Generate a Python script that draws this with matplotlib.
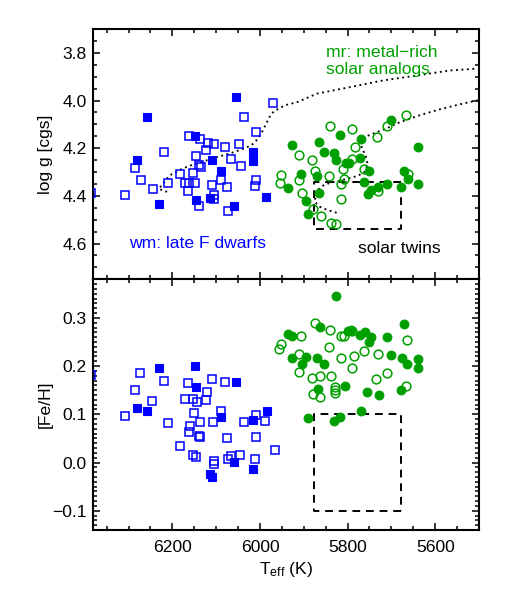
#!/usr/bin/env python3
# -*- coding: utf-8 -*-
import numpy as np
import matplotlib
matplotlib.use("Agg")
import matplotlib.pyplot as plt
from matplotlib.ticker import MultipleLocator

plt.rcParams['font.family'] = ['Liberation Sans', 'DejaVu Sans']
plt.rcParams['mathtext.fontset'] = 'custom'
plt.rcParams['mathtext.rm'] = 'Liberation Sans'
plt.rcParams['mathtext.it'] = 'Liberation Sans:italic'

BLUE = '#0000ff'
GREEN = '#009f00'

# --- wm: late F dwarfs (squares) ---
wm_open_teff = [5970, 6037, 6008, 6162, 6137, 6118, 6104, 6079, 6047, 6218, 6124, 6146, 6065,
                6140, 6135, 6043, 6285, 6183, 6152, 6272, 6210, 6171, 6162, 6149, 6110, 6090,
                6075, 6009, 6011, 6245, 6164, 6309, 6105, 6105, 6139, 6073, 6385]
wm_open_logg = [4.009, 4.069, 4.131, 4.149, 4.163, 4.177, 4.184, 4.195, 4.184, 4.216, 4.209, 4.232,
                4.245, 4.270, 4.277, 4.275, 4.284, 4.307, 4.302, 4.333, 4.345, 4.344, 4.345, 4.345,
                4.355, 4.333, 4.361, 4.332, 4.358, 4.372, 4.378, 4.397, 4.396, 4.414, 4.441, 4.465,
                4.390]
wm_fill_teff = [6055, 6257, 6149, 6016, 6016, 6281, 6110, 6089, 6147, 6114, 5987, 6230, 6060]
wm_fill_logg = [3.985, 4.069, 4.148, 4.215, 4.252, 4.251, 4.251, 4.294, 4.416, 4.409, 4.405, 4.436, 4.443]

wm_open_teff_b = [6273, 6218, 6165, 6110, 6080, 6120, 6285, 6246, 6170, 6152, 6143, 6123, 6309,
                  6211, 6150, 6137, 6107, 6089, 6037, 6008, 5988, 6160, 6162, 6140, 6137, 6075,
                  6009, 6183, 5966, 6152, 6145, 6105, 6104, 6073, 6065, 6046, 6012, 6385]
wm_open_feh = [0.186, 0.169, 0.165, 0.173, 0.166, 0.146, 0.150, 0.127, 0.132, 0.131, 0.126, 0.129,
               0.097, 0.082, 0.102, 0.085, 0.084, 0.107, 0.084, 0.098, 0.086, 0.076, 0.063, 0.056,
               0.052, 0.050, 0.053, 0.035, 0.026, 0.015, 0.011, 0.003, -0.003, 0.007, 0.013, 0.016,
               0.007, 0.182]
wm_fill_teff_b = [6230, 6149, 6146, 6055, 6281, 6257, 6089, 6016, 5985, 6060, 6016, 6114, 6110]
wm_fill_feh = [0.195, 0.200, 0.156, 0.166, 0.113, 0.106, 0.095, 0.088, 0.107, 0.002, -0.014, -0.024, -0.030]

# --- mr: metal-rich solar analogs (circles) ---
mr_open_teff = [5666, 5711, 5841, 5790, 5733, 5784, 5912, 5882, 5791, 5763, 5810, 5875, 5953,
                5842, 5663, 5912, 5955, 5808, 5816, 5731, 5905, 5815, 5879, 5861, 5837, 5826]
mr_open_logg = [4.059, 4.108, 4.105, 4.119, 4.154, 4.194, 4.230, 4.248, 4.247, 4.288, 4.288, 4.294,
                4.311, 4.318, 4.308, 4.334, 4.347, 4.330, 4.350, 4.378, 4.388, 4.413, 4.455, 4.483,
                4.514, 4.517]
mr_fill_teff = [5700, 5817, 5770, 5928, 5866, 5639, 5854, 5830, 5827, 5771, 5804, 5797, 5750, 5869,
                5907, 5671, 5663, 5936, 5762, 5710, 5730, 5746, 5754, 5677, 5639, 5865, 5894, 5890]
mr_fill_logg = [4.083, 4.144, 4.161, 4.188, 4.173, 4.194, 4.217, 4.222, 4.249, 4.241, 4.263, 4.261,
                4.295, 4.316, 4.308, 4.295, 4.328, 4.369, 4.340, 4.350, 4.364, 4.375, 4.393, 4.364,
                4.351, 4.386, 4.423, 4.475]

mr_open_teff_b = [5875, 5841, 5907, 5814, 5808, 5790, 5664, 5952, 5956, 5843, 5762, 5731, 5912, 5814,
                  5785, 5791, 5912, 5882, 5862, 5837, 5734, 5711, 5880, 5863, 5829, 5829, 5829, 5666]
mr_open_feh = [0.290, 0.275, 0.263, 0.263, 0.263, 0.272, 0.255, 0.246, 0.235, 0.239, 0.232, 0.225,
               0.226, 0.217, 0.220, 0.196, 0.188, 0.176, 0.179, 0.179, 0.174, 0.185, 0.142, 0.135,
               0.157, 0.150, 0.145, 0.158]
mr_fill_teff_b = [5826, 5863, 5937, 5928, 5799, 5793, 5772, 5761, 5746, 5751, 5710, 5672, 5700, 5676,
                  5664, 5639, 5639, 5928, 5895, 5905, 5869, 5854, 5867, 5805, 5755, 5729, 5677, 5890,
                  5831, 5818, 5769]
mr_fill_feh = [0.346, 0.281, 0.267, 0.263, 0.273, 0.274, 0.264, 0.270, 0.261, 0.250, 0.261, 0.288,
               0.223, 0.217, 0.204, 0.214, 0.196, 0.216, 0.219, 0.205, 0.216, 0.204, 0.153, 0.159,
               0.147, 0.140, 0.150, 0.093, 0.086, 0.095, 0.107]

# --- dotted evolutionary tracks ---
track1_teff = [6212, 6231, 6222, 6207, 6183, 6160, 6133, 6107, 6082, 6057, 6032, 6019, 6009, 6000,
               5993, 5987, 5981, 5976, 5968, 5943, 5914, 5870, 5795, 5720, 5642, 5567, 5503]
track1_logg = [4.383, 4.371, 4.350, 4.315, 4.291, 4.273, 4.258, 4.242, 4.229, 4.215, 4.198, 4.187,
               4.169, 4.148, 4.124, 4.101, 4.080, 4.062, 4.045, 4.020, 4.006, 3.971, 3.944, 3.916,
               3.895, 3.874, 3.866]
track2_teff = [5825, 5848, 5863, 5875, 5873, 5868, 5857, 5841, 5811, 5777, 5761, 5754, 5759, 5768,
               5768, 5745, 5715, 5681, 5636, 5590, 5544, 5503]
track2_logg = [4.471, 4.458, 4.446, 4.425, 4.396, 4.375, 4.358, 4.346, 4.333, 4.316, 4.300, 4.270,
               4.229, 4.199, 4.158, 4.141, 4.120, 4.091, 4.062, 4.037, 4.016, 3.999]

# --- solar twin box ---
twin_teff = [5677, 5877]
twin_logg = [4.34, 4.54]
twin_feh = [-0.10, 0.10]


def style_axis(ax, ymajor, yminor):
    ax.xaxis.set_major_locator(MultipleLocator(200))
    ax.xaxis.set_minor_locator(MultipleLocator(50))
    ax.yaxis.set_major_locator(MultipleLocator(ymajor))
    ax.yaxis.set_minor_locator(MultipleLocator(yminor))
    ax.tick_params(which='both', direction='in', top=True, right=True,
                   labelsize=12.6, width=1.1)
    ax.tick_params(which='major', length=5.2)
    ax.tick_params(which='minor', length=2.6)
    ax.tick_params(axis='x', pad=7)
    ax.tick_params(axis='y', pad=5)
    for s in ax.spines.values():
        s.set_linewidth(1.5)


def box(ax, xs, ys):
    bx = [xs[0], xs[1], xs[1], xs[0], xs[0]]
    by = [ys[0], ys[0], ys[1], ys[1], ys[0]]
    ax.plot(bx, by, color='black', lw=1.4, linestyle=(0, (4, 3)), zorder=1)


def plot_points(ax, ox, oy, fx, fy, marker, color, ms):
    ax.plot(ox, oy, linestyle='none', marker=marker, ms=ms, mfc='none', mec=color,
            mew=1.1, zorder=3)
    ax.plot(fx, fy, linestyle='none', marker=marker, ms=ms, mfc=color, mec=color,
            mew=0.8, zorder=4)


fig = plt.figure(figsize=(5.07, 5.9), dpi=100)
ax1 = fig.add_axes([0.1844, 0.5266, 0.7604, 0.4242])
ax2 = fig.add_axes([0.1844, 0.1017, 0.7604, 0.4249])

# top panel: log g
dots = (0, (1, 1.9))
ax1.plot(track1_teff, track1_logg, color='black', lw=1.35, linestyle=dots, zorder=2)
ax1.plot(track2_teff, track2_logg, color='black', lw=1.35, linestyle=dots, zorder=2)
box(ax1, twin_teff, twin_logg)
plot_points(ax1, wm_open_teff, wm_open_logg, wm_fill_teff, wm_fill_logg, 's', BLUE, 5.9)
plot_points(ax1, mr_open_teff, mr_open_logg, mr_fill_teff, mr_fill_logg, 'o', GREEN, 6.3)
ax1.set_xlim(6380, 5500)
ax1.set_ylim(4.75, 3.70)
style_axis(ax1, 0.2, 0.05)
ax1.tick_params(axis='x', labelbottom=False)
ax1.set_ylabel('log g [cgs]', fontsize=12.6)
ax1.yaxis.set_label_coords(-0.105, 0.5)
ax1.text(0.603, 0.887, 'mr: metal\u2212rich', color=GREEN, fontsize=12.6,
         transform=ax1.transAxes, va='baseline')
ax1.text(0.603, 0.819, 'solar analogs', color=GREEN, fontsize=12.6,
         transform=ax1.transAxes, va='baseline')
ax1.text(0.093, 0.124, 'wm: late F dwarfs', color=BLUE, fontsize=12.6,
         transform=ax1.transAxes, va='baseline')
ax1.text(0.687, 0.106, 'solar twins', color='black', fontsize=12.6,
         transform=ax1.transAxes, va='baseline')

# bottom panel: [Fe/H]
box(ax2, twin_teff, twin_feh)
plot_points(ax2, wm_open_teff_b, wm_open_feh, wm_fill_teff_b, wm_fill_feh, 's', BLUE, 5.9)
plot_points(ax2, mr_open_teff_b, mr_open_feh, mr_fill_teff_b, mr_fill_feh, 'o', GREEN, 6.3)
ax2.set_xlim(6380, 5500)
ax2.set_ylim(-0.14, 0.38)
style_axis(ax2, 0.1, 0.01)
ax2.set_ylabel('[Fe/H]', fontsize=12.6)
ax2.yaxis.set_label_coords(-0.105, 0.5)
ax2.set_xlabel(r'T$_{\mathrm{eff}}$ (K)', fontsize=12.6)
ax2.xaxis.set_label_coords(0.5, -0.118)

fig.savefig('out.png', dpi=100)
